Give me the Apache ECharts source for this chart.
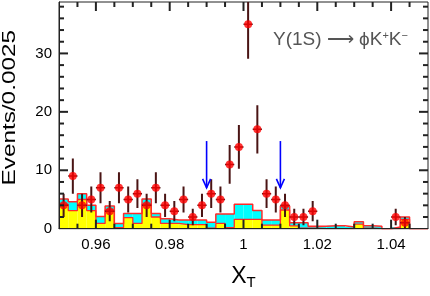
<!DOCTYPE html>
<html><head><meta charset="utf-8">
<script src="https://cdn.jsdelivr.net/npm/echarts@6/dist/echarts.min.js"></script>
<style>html,body{margin:0;padding:0;background:#fff}#c{width:430px;height:296px}</style>
</head><body><div id="c"></div>
<script>
// ---- data ----
const binLow = 0.95;
const binWidth = 0.0025;
const dataCounts = [4,9,4,5,7,3,7,5,6,4, 7,4,3,5,2,4,6,5,11,14, 35,17,6,5,4,2,2,3,0,0, 0,0,0,0,0,0,2,1,0,0];
const dataErrors = [2,3,2,2.24,2.65,1.73,2.65,2.24,2.45,2, 2.65,2,1.73,2.24,1.41,2,2.45,2.24,3.32,3.74, 5.92,4.12,2.45,2.24,2,1.41,1.41,1.73,0,0, 0,0,0,0,0,0,1.41,1,0,0];
const yellowVals = [4.2,3.1,5.0,3.1,0.9,3.2,0.2,1.9,0.9,4.2, 2.0,0.9,0.9,0.7,0.7,0.7,0.1,0.9,0.2,1.6, 1.6,1.6,0.6,0.6,3.2,0.5,0.1,0.1,0,0, 0,0,0.8,0.1,0,0,0,1.6,0,0];
const totalVals  = [5.1,4.6,6.0,4.0,2.1,3.9,0.9,2.6,2.6,5.1, 2.6,1.7,1.5,1.5,1.5,1.5,1.1,2.5,2.5,4.2, 4.2,3.1,1.5,1.5,3.9,1.0,1.0,0.4,0.4,0.5, 0.5,0.3,1.2,0.5,0.4,0,0.3,2.0,0,0];
const arrowX = [0.99, 1.01];
const arrowTop = 15, arrowTip = 7;
const xMajorTicks = [0.96, 0.98, 1, 1.02, 1.04];
const xMinorTicks = [0.955,0.965,0.97,0.975,0.985,0.99,0.995,1.005,1.01,1.015,1.025,1.03,1.035,1.045];
const yMajorTicks = [10, 20, 30];
const yMinorTicks = [2,4,6,8,12,14,16,18,22,24,26,28,32,34,36,38];
const yLabelTicks = [0, 10, 20, 30];
const xMin = 0.95, xMax = 1.05, yMin = 0, yMax = 38.8;

// ---- derived ----
const histData = yellowVals.map((y, i) => [binLow + i * binWidth, binLow + (i + 1) * binWidth, y, totalVals[i]]);
const stepTotal = totalVals.map((v, i) => [binLow + i * binWidth, v]).concat([[xMax, totalVals[totalVals.length - 1]]]);
const stepYellow = yellowVals.map((v, i) => [binLow + i * binWidth, v]).concat([[xMax, yellowVals[yellowVals.length - 1]]]);
const pts = [];
dataCounts.forEach((c, i) => { if (c > 0) pts.push([binLow + (i + 0.5) * binWidth, c, dataErrors[i]]); });
const xTickItems = xMajorTicks.map(v => [v, 1, 9]).concat(xMinorTicks.map(v => [v, 1, 5]));
const yTickItems = yMajorTicks.map(v => [1, v, 9]).concat(yMinorTicks.map(v => [1, v, 5]));

const FONT = 'Liberation Sans, Arial, Helvetica, sans-serif';
const TICK = '#222';
const TW = 2;

const chart = echarts.init(document.getElementById('c'), null, {renderer: 'canvas'});
chart.setOption({
  animation: false,
  backgroundColor: '#fff',
  grid: {left: 59, right: 2, top: 2, bottom: 67.3, outerBoundsMode: 'none', containLabel: false,
    show: true, borderColor: '#222', borderWidth: 1, backgroundColor: 'rgba(0,0,0,0)'},
  title: {
    text: 'Υ(1S) ⟶ ϕK{s|+}K{s|−}', left: 268, top: 25,
    textStyle: {fontFamily: FONT, fontSize: 19, fontWeight: 'normal', color: '#555',
      rich: {s: {fontSize: 11, color: '#555', verticalAlign: 'top', padding: [0, 0, 9, 0]}}}
  },
  graphic: [{
    type: 'text', left: 0, top: 30, rotation: Math.PI / 2, scaleX: 1.28, scaleY: 1,
    style: {text: 'Events/0.0025', fontFamily: FONT, fontSize: 19, fill: '#000'}
  }],
  xAxis: [{
    type: 'value', position: 'bottom', min: xMin, max: xMax, z: 10,
    axisLine: {show: true, lineStyle: {color: '#222', width: 1}}, splitLine: {show: false},
    axisTick: {show: false},
    axisLabel: {show: true, customValues: xMajorTicks, fontFamily: FONT, fontSize: 15, color: '#000', margin: 9},
    name: '{a|X}{b|T}', nameLocation: 'middle', nameGap: 33,
    nameTextStyle: {rich: {a: {fontFamily: FONT, fontSize: 23, color: '#000'}, b: {fontFamily: FONT, fontSize: 15, color: '#000', padding: [14, 0, 0, 0]}}}
  }],
  yAxis: [{
    type: 'value', position: 'left', min: yMin, max: yMax, z: 10,
    axisLine: {show: true, lineStyle: {color: '#222', width: 1}}, splitLine: {show: false},
    axisTick: {show: false},
    axisLabel: {show: true, customValues: yLabelTicks, fontFamily: FONT, fontSize: 15, color: '#000', margin: 7}
  }],
  series: [
    {
      type: 'custom', name: 'hist', z: 2, clip: true,
      renderItem: function (params, api) {
        const x0 = api.value(0), x1 = api.value(1), yv = api.value(2), tv = api.value(3);
        const a = api.coord([x0, 0]), b = api.coord([x1, yv]), c = api.coord([x1, tv]);
        return {type: 'group', children: [
          {type: 'rect', shape: {x: a[0], y: c[1], width: b[0] - a[0], height: b[1] - c[1]}, style: {fill: '#00ffff'}},
          {type: 'rect', shape: {x: a[0], y: b[1], width: b[0] - a[0], height: a[1] - b[1]}, style: {fill: '#ffff00'}}
        ]};
      },
      data: histData
    },
    {type: 'line', step: 'end', data: stepYellow, symbol: 'none', z: 3, lineStyle: {color: '#ff2a2a', width: 1.3}},
    {type: 'line', step: 'end', data: stepTotal, symbol: 'none', z: 3, lineStyle: {color: '#ff2a2a', width: 1.5}},
    {
      type: 'custom', name: 'err', z: 4, clip: true,
      renderItem: function (params, api) {
        const x = api.value(0), v = api.value(1), e = api.value(2);
        const lo = api.coord([x, v - e]), hi = api.coord([x, v + e]);
        const l = api.coord([x - binWidth / 2, v]), r = api.coord([x + binWidth / 2, v]);
        return {type: 'group', children: [
          {type: 'line', shape: {x1: lo[0], y1: lo[1], x2: hi[0], y2: hi[1]}, style: {stroke: '#4a1414', lineWidth: 2}},
          {type: 'line', shape: {x1: l[0], y1: l[1], x2: r[0], y2: r[1]}, style: {stroke: '#4a1414', lineWidth: 1.5}}
        ]};
      },
      data: pts
    },
    {type: 'scatter', data: pts.map(p => [p[0], p[1]]), symbol: 'circle', symbolSize: 8, z: 5,
      itemStyle: {color: '#ff0000'}},
    {
      type: 'custom', name: 'arrows', z: 6,
      renderItem: function (params, api) {
        const x = api.value(0);
        const t = api.coord([x, arrowTop]), p = api.coord([x, arrowTip]);
        return {type: 'group', children: [
          {type: 'line', shape: {x1: t[0], y1: t[1], x2: p[0], y2: p[1]}, style: {stroke: '#0000ff', lineWidth: 1.6}},
          {type: 'polyline', shape: {points: [[p[0] - 4, p[1] - 9], [p[0], p[1]], [p[0] + 4, p[1] - 9]]}, style: {stroke: '#0000ff', lineWidth: 1.6, fill: null}}
        ]};
      },
      data: arrowX.map(x => [x, arrowTip])
    },
    {
      type: 'custom', name: 'xticks', z: 7, silent: true,
      renderItem: function (params, api) {
        const xv = api.value(0), len = api.value(2);
        const b = api.coord([xv, yMin]), t = api.coord([xv, yMax]);
        const x = b[0] - TW / 2;
        return {type: 'group', children: [
          {type: 'rect', shape: {x: x, y: b[1] - len, width: TW, height: len}, style: {fill: TICK}},
          {type: 'rect', shape: {x: x, y: t[1], width: TW, height: len}, style: {fill: TICK}}
        ]};
      },
      data: xTickItems
    },
    {
      type: 'custom', name: 'yticks', z: 7, silent: true,
      renderItem: function (params, api) {
        const yv = api.value(1), len = api.value(2);
        const l = api.coord([xMin, yv]), r = api.coord([xMax, yv]);
        const y = l[1] - TW / 2;
        return {type: 'group', children: [
          {type: 'rect', shape: {x: l[0], y: y, width: len, height: TW}, style: {fill: TICK}},
          {type: 'rect', shape: {x: r[0] - len, y: y, width: len, height: TW}, style: {fill: TICK}}
        ]};
      },
      data: yTickItems
    }
  ]
});
</script>
</body></html>
